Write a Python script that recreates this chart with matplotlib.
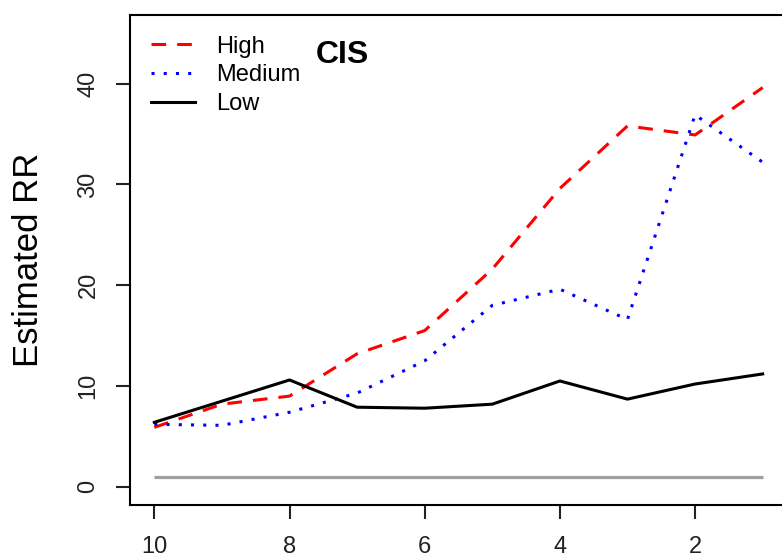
import numpy as np
import matplotlib
matplotlib.use("Agg")
import matplotlib.pyplot as plt

plt.rcParams['font.family'] = ['Liberation Sans', 'DejaVu Sans']

# data
x_vals = [10, 9, 8, 7, 6, 5, 4, 3, 2, 1]
high = [5.9, 8.2, 9.0, 13.2, 15.5, 21.6, 29.6, 35.8, 34.9, 39.6]
medium = [6.2, 6.1, 7.4, 9.3, 12.5, 18.0, 19.6, 16.6, 36.9, 32.2]
low = [6.4, 8.5, 10.6, 7.9, 7.8, 8.2, 10.5, 8.7, 10.2, 11.2]
ref_level = [1, 1]
ref_x = [10, 1]

x_ticks = [10, 8, 6, 4, 2]
y_ticks = [0, 10, 20, 30, 40]

fig = plt.figure(figsize=(7.82, 5.54), dpi=100)
W, H = 782, 554
left, right, top, bottom = 130, 787, 15, 505
ax = fig.add_axes([left / W, 1 - bottom / H, (right - left) / W, (bottom - top) / H])

ax.plot(ref_x, ref_level, color='#a0a0a0', lw=2.3, solid_capstyle='butt')
ax.plot(x_vals, high, color='#ff0000', lw=2.2, linestyle=(0, (4.8, 3.6)), label='High')
ax.plot(x_vals, medium, color='#0000ff', lw=2.2, linestyle=(0, (1, 3)), label='Medium')
ax.plot(x_vals, low, color='black', lw=2.2, label='Low')

ax.set_xlim(10.36, 0.64)
ax.set_ylim(-1.8, 46.8)
ax.set_xticks(x_ticks)
ax.set_yticks(y_ticks)
ax.tick_params(axis='both', length=10, width=1.5, labelsize=17, pad=12, colors='#222222')
for lab in ax.get_yticklabels():
    lab.set_rotation(90)
    lab.set_va('center')
for s in ax.spines.values():
    s.set_linewidth(1.5)

ax.set_ylabel('Estimated RR', fontsize=25, va='center')
ax.yaxis.set_label_coords(-0.155, 0.5)

ax.text(0.323, 0.918, 'CIS', transform=ax.transAxes, fontsize=23, fontweight='bold',
        ha='center', va='center')

ax.legend(loc='upper left', bbox_to_anchor=(0.032, 0.958), frameon=False, fontsize=17,
          handlelength=1.85, handletextpad=0.9, labelspacing=0.28, borderpad=0, borderaxespad=0)

fig.savefig('out.png', dpi=100)
